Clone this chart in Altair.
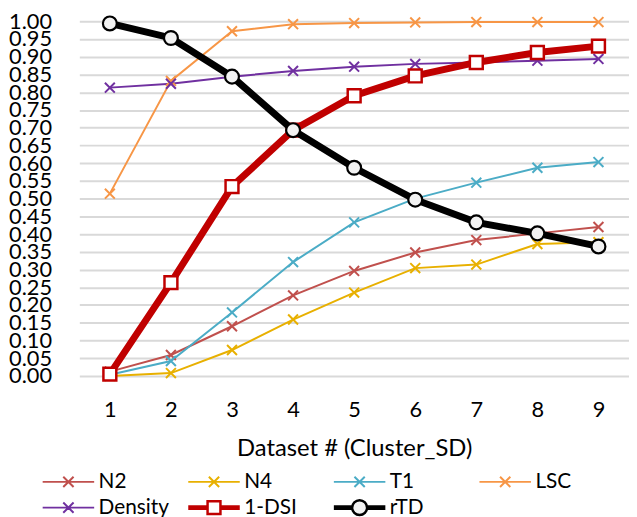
import altair as alt
import pandas as pd

datasets = [1, 2, 3, 4, 5, 6, 7, 8, 9]
series_names = ["N2", "N4", "T1", "LSC", "Density", "1-DSI", "rTD"]
n2 = [0.012, 0.059, 0.140, 0.227, 0.296, 0.348, 0.383, 0.402, 0.420]
n4 = [0.000, 0.008, 0.073, 0.159, 0.235, 0.304, 0.314, 0.372, 0.377]
t1 = [0.003, 0.042, 0.179, 0.321, 0.433, 0.500, 0.545, 0.587, 0.603]
lsc = [0.514, 0.832, 0.972, 0.992, 0.995, 0.997, 0.998, 0.998, 0.998]
density = [0.813, 0.824, 0.844, 0.860, 0.872, 0.880, 0.884, 0.889, 0.894]
dsi = [0.005, 0.263, 0.534, 0.693, 0.790, 0.846, 0.884, 0.912, 0.930]
rtd = [0.994, 0.953, 0.844, 0.693, 0.587, 0.497, 0.433, 0.402, 0.365]
y_ticks = [round(i * 0.05, 2) for i in range(21)]

series_colors = ["#C0504D", "#E8B000", "#4BACC6", "#F79646", "#7030A0", "#C00000", "#000000"]
legend_fills = ["white", "white", "white", "white", "white", "white", "#F2F2F2"]
legend_widths = [2, 2, 2, 2, 2, 2.5, 2.5]

cross_legend = "M-1,0L1,0M-0.2,-0.2L0.2,0.2M-0.2,0.2L0.2,-0.2"
square_legend = ("M-1,-0.04L-0.25,-0.04M-1,0L-0.25,0M-1,0.04L-0.25,0.04"
                 "M0.25,-0.04L1,-0.04M0.25,0L1,0M0.25,0.04L1,0.04"
                 "M-0.25,-0.25L0.25,-0.25L0.25,0.25L-0.25,0.25Z")
circle_legend = ("M-1,-0.04L-0.29,-0.04M-1,0L-0.29,0M-1,0.04L-0.29,0.04"
                 "M0.29,-0.04L1,-0.04M0.29,0L1,0M0.29,0.04L1,0.04"
                 "M0.29,0A0.29,0.29,0,1,1,-0.29,0A0.29,0.29,0,1,1,0.29,0Z")
legend_shapes = [cross_legend] * 5 + [square_legend, circle_legend]
cross_path = "M-1,-1L1,1M-1,1L1,-1"

rows = []
for name, vals in zip(series_names, [n2, n4, t1, lsc, density, dsi, rtd]):
    for d, v in zip(datasets, vals):
        rows.append({"dataset": d, "series": name, "value": v})
df = pd.DataFrame(rows)

FONT = "Lato"

x = alt.X("dataset:O", scale=alt.Scale(type="point", padding=0.5),
          axis=alt.Axis(title="Dataset # (Cluster_SD)", labelAngle=0, ticks=False, domain=False,
                        grid=False, labelPadding=24, titlePadding=16))
y = alt.Y("value:Q", scale=alt.Scale(domain=[0, 1], nice=False),
          axis=alt.Axis(title=None, values=y_ticks, format=".2f", ticks=False, domain=False,
                        grid=True, gridColor="#d9d9d9", gridWidth=2, labelPadding=28,
                        labelOverlap=False))
stroke = alt.Stroke("series:N", scale=alt.Scale(domain=series_names, range=series_colors),
                    legend=alt.Legend(title=None))

base = alt.Chart(df).encode(x=x, y=y, stroke=stroke)
thin = base.transform_filter(alt.FieldOneOfPredicate(field="series", oneOf=series_names[:5]))
thin_lines = thin.mark_line(strokeWidth=2)
thin_pts = thin.mark_point(shape=cross_path, size=100, strokeWidth=2, filled=False, opacity=1)

dsi_base = base.transform_filter(alt.datum.series == "1-DSI")
dsi_line = dsi_base.mark_line(strokeWidth=7)
dsi_pts = dsi_base.mark_point(shape="square", size=169, filled=True, fill="white", strokeWidth=2.5, opacity=1)

rtd_base = base.transform_filter(alt.datum.series == "rTD")
rtd_line = rtd_base.mark_line(strokeWidth=7)
rtd_pts = rtd_base.mark_point(shape="circle", size=196, filled=True, fill="#F2F2F2", strokeWidth=2.2, opacity=1)

legend_layer = alt.Chart(df).transform_filter("false").mark_point(filled=True, opacity=1).encode(
    stroke=stroke,
    fill=alt.Fill("series:N", scale=alt.Scale(domain=series_names, range=legend_fills), legend=alt.Legend(title=None)),
    shape=alt.Shape("series:N", scale=alt.Scale(domain=series_names, range=legend_shapes), legend=alt.Legend(title=None)),
    strokeWidth=alt.StrokeWidth("series:N", scale=alt.Scale(type="ordinal", domain=series_names, range=legend_widths),
                                legend=alt.Legend(title=None)),
)

chart = alt.layer(
    thin_lines, thin_pts, dsi_line, dsi_pts, rtd_line, rtd_pts, legend_layer
).properties(
    width=555, height=358,
    autosize=alt.AutoSizeParams(type="none"),
    padding={"left": 72, "top": 11, "right": 0, "bottom": 140},
).configure_view(stroke=None).configure_axis(
    labelFont=FONT, labelFontSize=22, labelColor="#000000",
    titleFont=FONT, titleFontSize=24, titleColor="#000000", titleFontWeight="normal",
).configure_legend(
    orient="none", direction="horizontal", legendX=-38.5, legendY=453, columns=4, gridAlign="all",
    symbolSize=2704, clipHeight=24, labelFont=FONT, labelFontSize=21, labelColor="#000000",
    columnPadding=17, rowPadding=2, labelOffset=3, symbolOffset=0,
)

chart.save("out.html", embed_options={"renderer": "svg", "actions": False})
